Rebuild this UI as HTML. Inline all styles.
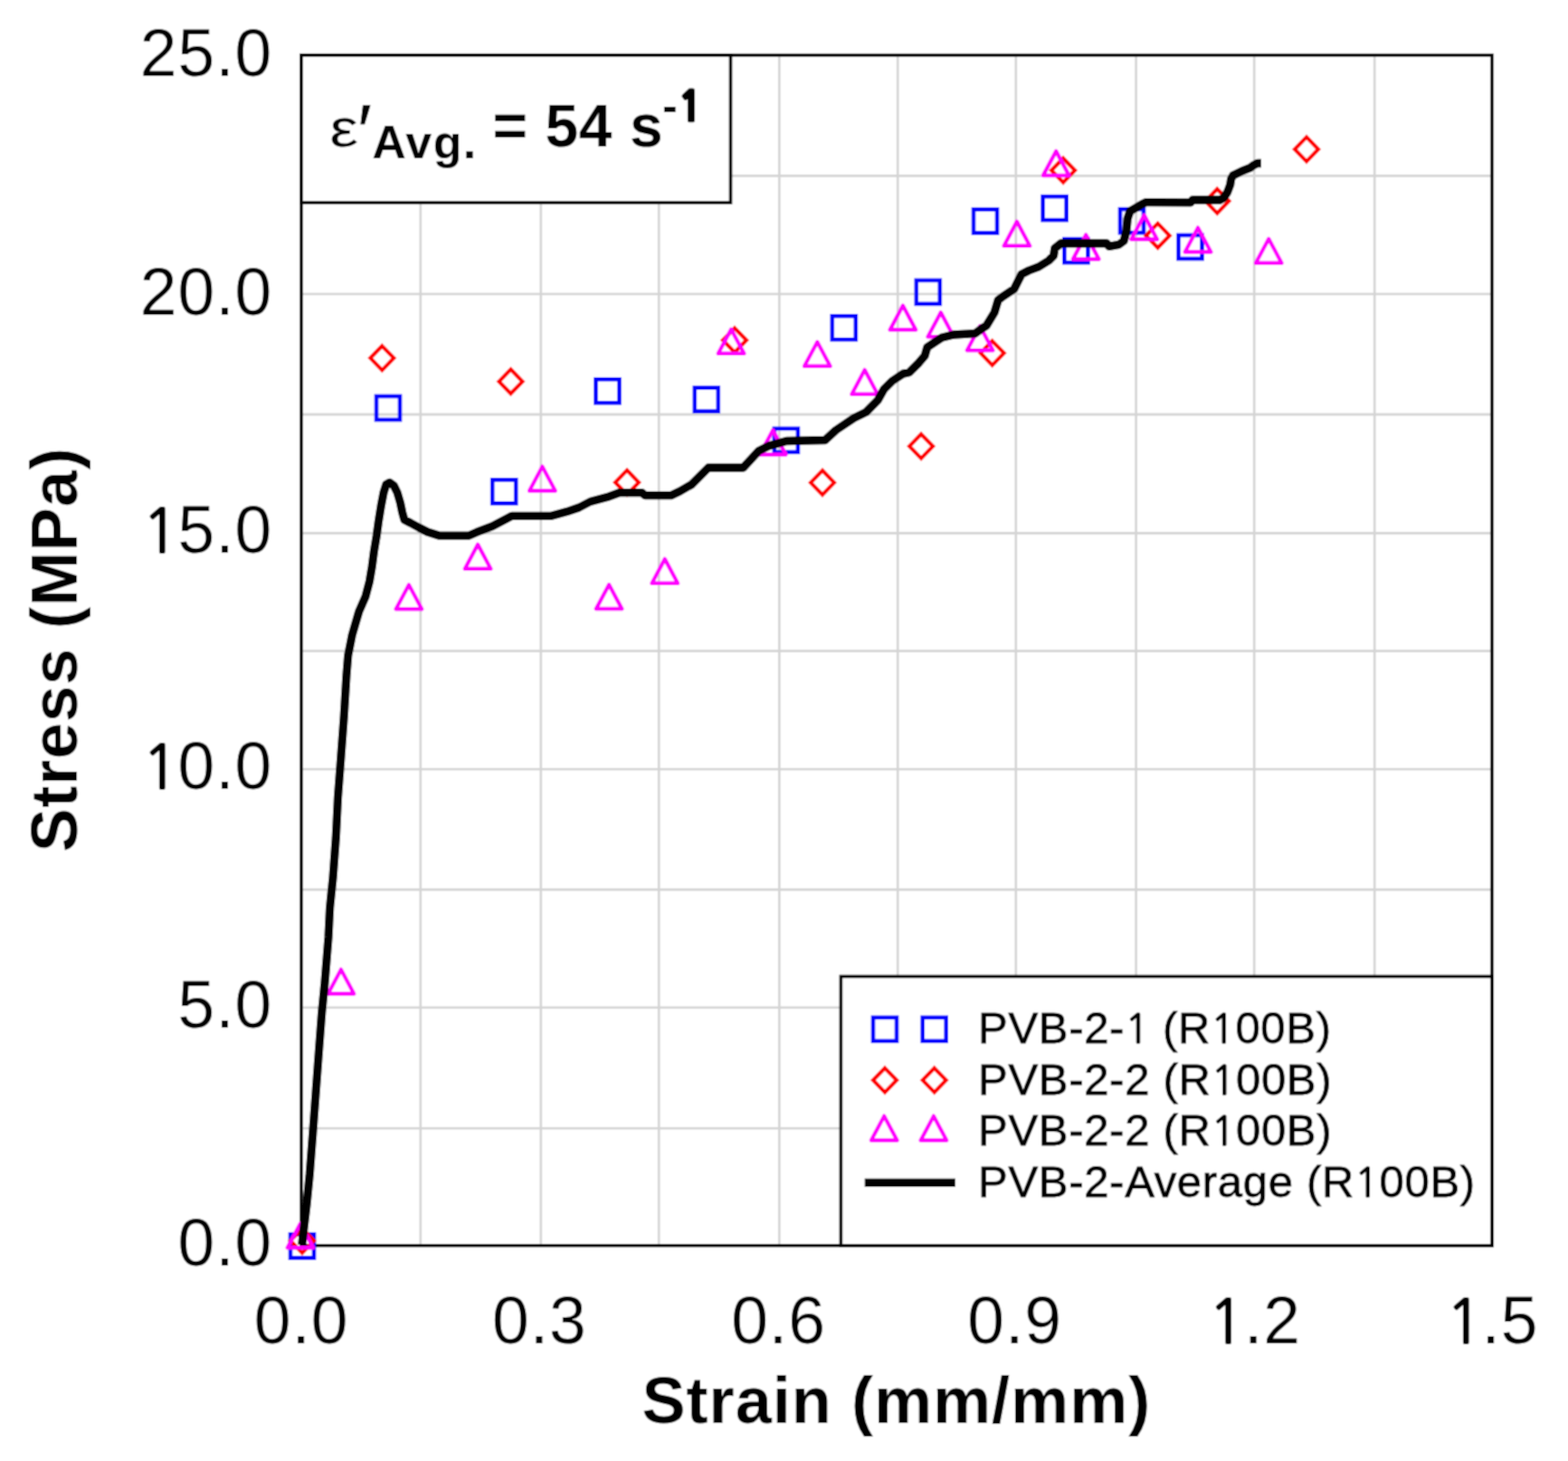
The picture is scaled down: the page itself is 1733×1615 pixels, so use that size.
<!DOCTYPE html>
<html><head><meta charset="utf-8"><title>Stress-Strain PVB-2</title><style>html,body{margin:0;padding:0;background:#fff;}svg{display:block;}text{font-family:"Liberation Sans",Arial,Helvetica,sans-serif;fill:#000;}.tk{font-size:73.2px;letter-spacing:1px;}.ttl{font-size:72px;font-weight:bold;letter-spacing:1.05px;}.lg{font-size:49px;letter-spacing:0.7px;stroke:#000;stroke-width:0.8px;}.o{font-family:NanumGothic,"Liberation Sans",sans-serif;font-size:90%;stroke:#000;stroke-width:0.032em;}.ob{font-family:NanumGothic,"Liberation Sans",sans-serif;font-size:90%;stroke:#000;stroke-width:0.07em;}</style></head><body><svg width="1733" height="1615" viewBox="0 0 1733 1615"><defs><filter id="soft" x="0" y="0" width="100%" height="100%" filterUnits="userSpaceOnUse"><feConvolveMatrix order="3" kernelMatrix="0.2500 0.5000 0.2500 0.5000 1.0000 0.5000 0.2500 0.5000 0.2500" divisor="4.0000" edgeMode="duplicate" preserveAlpha="true"/></filter></defs><g filter="url(#soft)"><rect x="0" y="0" width="1733" height="1615" fill="#fff"/><g stroke="#d4d4d4" stroke-width="2.6" fill="none"><line x1="464.8" y1="61.0" x2="464.8" y2="1376.8"/><line x1="597.8" y1="61.0" x2="597.8" y2="1376.8"/><line x1="728.2" y1="61.0" x2="728.2" y2="1376.8"/><line x1="861.3" y1="61.0" x2="861.3" y2="1376.8"/><line x1="992.2" y1="61.0" x2="992.2" y2="1376.8"/><line x1="1122.8" y1="61.0" x2="1122.8" y2="1376.8"/><line x1="1255.6" y1="61.0" x2="1255.6" y2="1376.8"/><line x1="1386.2" y1="61.0" x2="1386.2" y2="1376.8"/><line x1="1519.2" y1="61.0" x2="1519.2" y2="1376.8"/><line x1="333.0" y1="194.4" x2="1649.0" y2="194.4"/><line x1="333.0" y1="325.0" x2="1649.0" y2="325.0"/><line x1="333.0" y1="458.1" x2="1649.0" y2="458.1"/><line x1="333.0" y1="589.4" x2="1649.0" y2="589.4"/><line x1="333.0" y1="719.6" x2="1649.0" y2="719.6"/><line x1="333.0" y1="850.2" x2="1649.0" y2="850.2"/><line x1="333.0" y1="983.4" x2="1649.0" y2="983.4"/><line x1="333.0" y1="1113.8" x2="1649.0" y2="1113.8"/><line x1="333.0" y1="1247.2" x2="1649.0" y2="1247.2"/></g><rect x="333.0" y="61.0" width="1316.0" height="1315.8" fill="none" stroke="#000" stroke-width="3.6"/><g fill="none" stroke="#0000ff" stroke-width="4.6"><rect x="321.0" y="1364.5" width="26.0" height="26.0"/><rect x="416.0" y="438.0" width="26.0" height="26.0"/><rect x="544.2" y="530.4" width="26.0" height="26.0"/><rect x="658.5" y="419.3" width="26.0" height="26.0"/><rect x="767.8" y="428.6" width="26.0" height="26.0"/><rect x="855.9" y="473.8" width="26.0" height="26.0"/><rect x="919.8" y="349.3" width="26.0" height="26.0"/><rect x="1012.8" y="309.9" width="26.0" height="26.0"/><rect x="1076.0" y="231.5" width="26.0" height="26.0"/><rect x="1152.6" y="217.2" width="26.0" height="26.0"/><rect x="1176.4" y="264.2" width="26.0" height="26.0"/><rect x="1238.0" y="231.2" width="26.0" height="26.0"/><rect x="1302.5" y="260.0" width="26.0" height="26.0"/></g><g fill="none" stroke="#ff0000" stroke-width="4.3"><polygon points="334.0,1358.1 347.0,1371.5 334.0,1384.9 321.0,1371.5"/><polygon points="422.3,382.4 435.3,395.8 422.3,409.2 409.3,395.8"/><polygon points="564.5,408.3 577.5,421.7 564.5,435.1 551.5,421.7"/><polygon points="693.0,519.8 706.0,533.2 693.0,546.6 680.0,533.2"/><polygon points="812.0,362.7 825.0,376.1 812.0,389.5 799.0,376.1"/><polygon points="909.0,520.1 922.0,533.5 909.0,546.9 896.0,533.5"/><polygon points="1018.1,479.9 1031.1,493.3 1018.1,506.7 1005.1,493.3"/><polygon points="1096.7,376.9 1109.7,390.3 1096.7,403.7 1083.7,390.3"/><polygon points="1175.1,174.9 1188.1,188.3 1175.1,201.7 1162.1,188.3"/><polygon points="1279.6,247.0 1292.6,260.4 1279.6,273.8 1266.6,260.4"/><polygon points="1345.3,208.9 1358.3,222.3 1345.3,235.7 1332.3,222.3"/><polygon points="1444.0,151.6 1457.0,165.0 1444.0,178.4 1431.0,165.0"/></g><g fill="none" stroke="#ff00ff" stroke-width="4.5" stroke-linejoin="round"><polygon points="332.0,1352.5 346.3,1379.3 317.7,1379.3"/><polygon points="376.9,1071.7 391.2,1098.5 362.6,1098.5"/><polygon points="451.9,646.5 466.2,673.3 437.6,673.3"/><polygon points="528.1,601.9 542.4,628.7 513.8,628.7"/><polygon points="599.4,515.7 613.7,542.5 585.1,542.5"/><polygon points="673.1,646.3 687.4,673.1 658.8,673.1"/><polygon points="734.8,617.9 749.1,644.7 720.5,644.7"/><polygon points="808.1,364.0 822.4,390.8 793.8,390.8"/><polygon points="854.2,475.6 868.5,502.4 839.9,502.4"/><polygon points="903.3,378.0 917.6,404.8 889.0,404.8"/><polygon points="955.7,408.9 970.0,435.7 941.4,435.7"/><polygon points="997.9,337.8 1012.2,364.6 983.6,364.6"/><polygon points="1039.8,345.4 1054.1,372.2 1025.5,372.2"/><polygon points="1083.1,360.5 1097.4,387.3 1068.8,387.3"/><polygon points="1123.9,244.9 1138.2,271.7 1109.6,271.7"/><polygon points="1167.2,167.1 1181.5,193.9 1152.9,193.9"/><polygon points="1200.2,259.6 1214.5,286.4 1185.9,286.4"/><polygon points="1264.6,237.8 1278.9,264.6 1250.3,264.6"/><polygon points="1324.0,251.7 1338.3,278.5 1309.7,278.5"/><polygon points="1402.2,264.0 1416.5,290.8 1387.9,290.8"/></g><polyline points="333.8,1376.0 335.6,1360.1 339.0,1331.1 342.3,1297.7 345.7,1253.1 349.0,1208.5 352.3,1163.8 355.7,1119.2 359.0,1085.8 363.0,1036.0 364.6,1003.4 368.0,970.0 371.3,925.4 373.5,880.8 376.9,836.1 380.2,791.5 382.9,746.9 384.7,724.6 389.1,702.3 396.7,676.1 404.0,659.4 408.4,642.6 411.2,625.9 413.4,609.2 416.2,592.5 418.5,575.7 421.2,559.0 424.0,544.5 426.8,535.6 430.7,533.4 435.2,536.7 439.1,544.5 442.4,555.7 444.7,566.8 446.9,574.6 453.6,578.0 463.6,583.5 472.5,588.0 485.9,592.2 517.8,592.2 527.1,588.2 544.3,581.6 565.6,570.3 609.4,570.3 626.6,565.6 640.0,561.0 652.4,554.5 671.0,549.6 684.6,544.6 709.4,544.6 713.1,547.7 741.6,547.7 751.5,543.0 764.3,535.6 782.9,517.0 821.4,517.0 838.6,498.4 849.3,493.1 869.2,487.5 911.9,486.5 923.9,475.5 943.8,462.2 957.1,455.6 970.3,442.3 977.0,430.3 986.3,421.0 998.2,413.1 1004.8,411.8 1015.5,401.1 1022.1,393.2 1024.8,383.9 1032.7,378.6 1040.7,373.3 1053.9,370.0 1077.8,368.6 1085.8,362.7 1090.2,360.0 1099.1,345.3 1103.2,331.7 1108.6,327.6 1120.9,319.4 1125.0,311.2 1129.1,303.1 1137.2,299.0 1148.1,294.9 1159.0,288.1 1164.5,282.6 1165.8,274.5 1172.7,269.0 1223.1,269.0 1225.8,272.4 1236.7,270.4 1242.1,266.3 1244.9,255.4 1246.2,241.8 1249.0,233.6 1262.6,225.4 1266.7,223.6 1316.0,223.8 1318.0,221.0 1348.2,221.0 1352.3,218.9 1356.5,212.7 1359.6,204.4 1360.6,198.2 1362.7,194.0 1373.1,188.8 1381.4,185.7 1385.6,182.6 1389.7,180.5 1393.9,180.5" fill="none" stroke="#000" stroke-width="9.3" stroke-linejoin="round" stroke-linecap="butt"/><rect x="333" y="61" width="474.5" height="163" fill="#fff" stroke="#000" stroke-width="3.6"/><text transform="translate(364.3 162.2) scale(1.19 1)" x="0" y="0" style="font-size:60px;">ε</text><text x="395.4" y="172.2" style="font-size:80px;stroke:#000;stroke-width:0.8px;">′</text><text x="411.3" y="175.4" style="font-size:52px;font-weight:bold;letter-spacing:1.4px;">Avg.</text><text x="544.4" y="162.4" style="font-size:66px;font-weight:bold;letter-spacing:0.6px;">= 54 s</text><text x="732" y="134" style="font-size:50px;font-weight:bold;letter-spacing:0.6px;">-<tspan class="ob">1</tspan></text><rect x="929.4" y="1079.4" width="719.6" height="297.4" fill="#fff" stroke="#000" stroke-width="3.6"/><g fill="none" stroke="#0000ff" stroke-width="4.6"><rect x="965.0" y="1124.8" width="26.0" height="26.0"/></g><g fill="none" stroke="#ff0000" stroke-width="4.3"><polygon points="978.0,1180.7 991.0,1194.1 978.0,1207.5 965.0,1194.1"/></g><g fill="none" stroke="#ff00ff" stroke-width="4.5" stroke-linejoin="round"><polygon points="977.2,1233.7 991.5,1260.5 962.9,1260.5"/></g><g fill="none" stroke="#0000ff" stroke-width="4.6"><rect x="1019.7" y="1124.8" width="26.0" height="26.0"/></g><g fill="none" stroke="#ff0000" stroke-width="4.3"><polygon points="1032.7,1180.7 1045.7,1194.1 1032.7,1207.5 1019.7,1194.1"/></g><g fill="none" stroke="#ff00ff" stroke-width="4.5" stroke-linejoin="round"><polygon points="1031.9,1233.7 1046.2,1260.5 1017.6,1260.5"/></g><line x1="955.7" y1="1307.4" x2="1055.8" y2="1307.4" stroke="#000" stroke-width="9.4"/><text class="lg" x="1081" y="1152.6">PVB-2-<tspan class="o">1</tspan> (R<tspan class="o">1</tspan>00B)</text><text class="lg" x="1081" y="1209.5">PVB-2-2 (R<tspan class="o">1</tspan>00B)</text><text class="lg" x="1081" y="1266.3">PVB-2-2 (R<tspan class="o">1</tspan>00B)</text><text class="lg" x="1081" y="1323.0">PVB-2-Average (R<tspan class="o">1</tspan>00B)</text><text class="tk" x="301.3" y="83.6" text-anchor="end">25.0</text><text class="tk" x="301.3" y="347.6" text-anchor="end">20.0</text><text class="tk" x="299.7" y="610.8" text-anchor="end"><tspan class="o" dx="1.6">1</tspan><tspan dx="-1.6">5.0</tspan></text><text class="tk" x="299.7" y="872.0" text-anchor="end"><tspan class="o" dx="1.6">1</tspan><tspan dx="-1.6">0.0</tspan></text><text class="tk" x="301.3" y="1135.6" text-anchor="end">5.0</text><text class="tk" x="301.3" y="1399.4" text-anchor="end">0.0</text><text class="tk" x="333.1" y="1485.2" text-anchor="middle">0.0</text><text class="tk" x="596.3" y="1485.2" text-anchor="middle">0.3</text><text class="tk" x="860.5" y="1485.2" text-anchor="middle">0.6</text><text class="tk" x="1121.6" y="1485.2" text-anchor="middle">0.9</text><text class="tk" x="1385.2" y="1485.2" text-anchor="middle"><tspan class="o" dx="1.6">1</tspan><tspan dx="-1.6">.2</tspan></text><text class="tk" x="1647.8" y="1485.2" text-anchor="middle"><tspan class="o" dx="1.6">1</tspan><tspan dx="-1.6">.5</tspan></text><text class="ttl" x="990.9" y="1573.2" text-anchor="middle">Strain (mm/mm)</text><text class="ttl" transform="translate(85.4 718.0) rotate(-90)" x="0" y="0" text-anchor="middle" style="letter-spacing:0.95px">Stress (MPa)</text></g></svg></body></html>
